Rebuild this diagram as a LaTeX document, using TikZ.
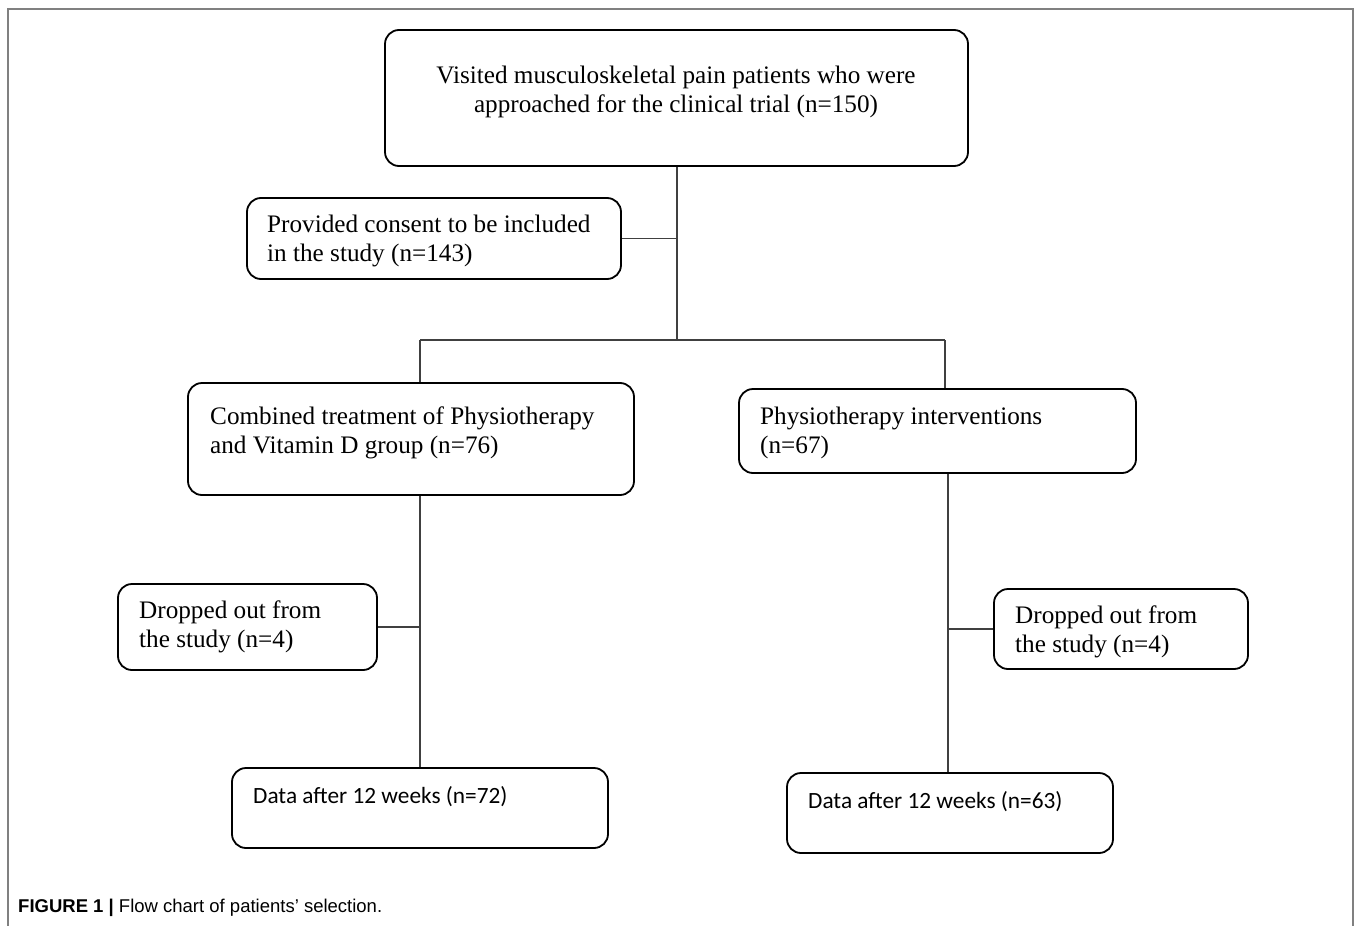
\documentclass[tikz,border=0pt]{standalone}
\usepackage{fontspec}
\setmainfont{Liberation Serif}
\newfontfamily\calfont{Carlito}
\newfontfamily\capfont{Liberation Sans}
\begin{document}
\begin{tikzpicture}[x=1pt,y=-1pt,
  box/.style={draw=black, line width=1.8pt, rounded corners=14pt, inner sep=0pt},
  txt/.style={anchor=west, inner sep=0pt, align=left, font=\fontsize{25.2}{28.5}\selectfont},
  ctxt/.style={inner sep=0pt, align=center, font=\fontsize{25.2}{28.5}\selectfont},
  dtxt/.style={anchor=west, inner sep=0pt, align=left, font=\calfont\fontsize{23.3}{27}\selectfont},
  conn/.style={draw=black!75, line width=1.2pt},
  frame/.style={draw=black!50, line width=1.5pt}]
\useasboundingbox (0,0) rectangle (1358,926);
\fill[white] (0,0) rectangle (1358,926);
\draw[frame] (8,926) -- (8,9) -- (1353,9) -- (1353,926);

% boxes
\node[box, minimum width=583pt, minimum height=136pt] (top) at (676.5,98) {};
\node[box, minimum width=374pt, minimum height=81pt] (cons) at (434,238.5) {};
\node[box, minimum width=446pt, minimum height=112pt] (comb) at (411,439) {};
\node[box, minimum width=397pt, minimum height=84pt] (phys) at (937.5,431) {};
\node[box, minimum width=259pt, minimum height=86pt] (dropL) at (247.5,627) {};
\node[box, minimum width=254pt, minimum height=80pt] (dropR) at (1121,629) {};
\node[box, minimum width=376pt, minimum height=80pt] (dataL) at (420,808) {};
\node[box, minimum width=326pt, minimum height=80pt] (dataR) at (950,813) {};

% texts
\node[ctxt] (ttop) at (676,92) {Visited musculoskeletal pain patients who were\\approached for the clinical trial (n=150)};
\node[txt] (tcons) at (267,241) {Provided consent to be included\\in the study (n=143)};
\node[txt] (tcomb) at (210,433) {Combined treatment of Physiotherapy\\and Vitamin D group (n=76)};
\node[txt] (tphys) at (760,433) {Physiotherapy interventions\\(n=67)};
\node[txt] (tdropL) at (139,627) {Dropped out from\\the study (n=4)};
\node[txt] (tdropR) at (1015,632) {Dropped out from\\the study (n=4)};
\node[dtxt] (tdataL) at (253,797) {Data after 12 weeks (n=72)};
\node[dtxt] (tdataR) at (808,802) {Data after 12 weeks (n=63)};

% connectors
\coordinate (j0) at (677,340);
\coordinate (jL) at (420,340);
\coordinate (jR) at (945,340);
\draw[conn] (top.south -| j0) -- (j0);
\draw[conn] (cons.east) -- (cons.east -| j0);
\draw[conn] (jL) -- (jR);
\draw[conn] (jL) -- (jL |- comb.north);
\draw[conn] (jR) -- (jR |- phys.north);
\draw[conn] (dataL.north |- comb.south) -- (dataL.north);
\draw[conn] (dropL.east) -- (dropL.east -| dataL.north);
\coordinate (vR) at (948,0);
\draw[conn] (vR |- phys.south) -- (vR |- dataR.north);
\draw[conn] (dropR.west) -- (dropR.west -| vR);

% caption
\node[anchor=west, inner sep=0pt, font=\capfont\fontsize{18.5}{22}\selectfont] (cap) at (18,908) {\textbf{FIGURE 1} \textbf{|} Flow chart of patients’ selection.};
\end{tikzpicture}
\end{document}
